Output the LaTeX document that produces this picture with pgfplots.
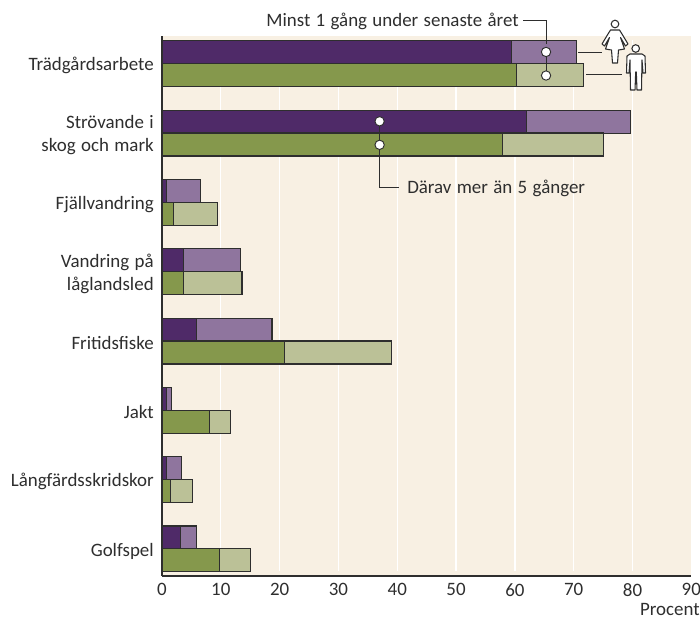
\documentclass[border=0pt]{standalone}
\usepackage{fontspec}
\setmainfont[WordSpace=1.25]{Carlito}
\usepackage{pgfplots}
\pgfplotsset{compat=1.18}
\definecolor{pdark}{HTML}{4F2A68}
\definecolor{plight}{HTML}{8F759E}
\definecolor{gdark}{HTML}{85984C}
\definecolor{glight}{HTML}{BBC197}
\definecolor{bg}{HTML}{F8F0E3}
\definecolor{ink}{HTML}{2E2E2E}
\pgfplotstableread{
idx woman womanm man manm
0 70.4 59.5 71.6 60.3
1 79.7 61.9 75.1 57.9
2 6.6 0.7 9.5 1.9
3 13.4 3.7 13.6 3.7
4 18.7 5.8 39.0 20.9
5 1.6 0.7 11.7 8.0
6 3.3 0.7 5.2 1.4
7 5.8 3.1 15.0 9.8
}\bars
\begin{document}
\begin{tikzpicture}[x=0.75pt,y=-0.75pt,font=\fontsize{14.2}{17.2}\selectfont,text=ink]
\path[use as bounding box] (0,0) rectangle (700,619);
\begin{axis}[
  at={(121.5pt,-432pt)}, anchor=south west, scale only axis,
  width=397pt, height=405pt,
  xmin=0, xmax=90, ymin=-0.4, ymax=7.39, y dir=reverse,
  axis background/.style={fill=bg},
  axis x line*=bottom, axis y line*=left,
  axis line style={ink,line width=0.9pt,-},
  tick style={draw=none},
  xtick={0,10,...,90}, ytick={0,...,7},
  yticklabels={Trädgårdsarbete,{Strövande i\\skog och mark},Fjällvandring,{Vandring på\\låglandsled},Fritidsfiske,Jakt,Långfärdsskridskor,Golfspel},
  yticklabel style={align=right,inner sep=0pt,xshift=-6pt,yshift=-1.5pt,text=ink},
  xticklabel style={text=ink,yshift=-2pt},
  /pgf/number format/assume math mode=true,
  clip=false,
]
\pgfplotsinvokeforeach{10,20,...,80}{\addplot[white,line width=1pt,forget plot] coordinates {(#1,-0.34)(#1,7.32)};}
\pgfkeys{/tikz/barstyle/.style={xbar,bar width=17.25pt,draw=ink,line width=0.8pt}}
\addplot[barstyle,fill=plight,bar shift=8.6pt] table[x=woman,y=idx] {\bars};
\addplot[barstyle,fill=pdark,bar shift=8.6pt] table[x=womanm,y=idx] {\bars};
\addplot[barstyle,fill=glight,bar shift=-8.6pt] table[x=man,y=idx] {\bars};
\addplot[barstyle,fill=gdark,bar shift=-8.6pt] table[x=manm,y=idx] {\bars};
\addplot[ink,line width=0.8pt,forget plot] coordinates {(65.3,-0.2)(65.3,0.17)};
\addplot[ink,line width=0.8pt,forget plot] coordinates {(37.0,0.83)(37.0,1.17)};
\addplot[only marks,mark=*,mark size=3.5pt,mark options={fill=white,draw=ink,line width=0.7pt}] coordinates {(65.3,-0.17)(65.3,0.17)(37.0,0.83)(37.0,1.17)};
\end{axis}
% callouts in image pixels
\draw[ink,line width=0.8pt] (523,20.5)--(546.5,20.5)--(546.5,44);
\node[anchor=east,inner sep=0pt] at (519,21) {Minst 1 gång under senaste året};
\draw[ink,line width=0.8pt] (379.5,150)--(379.5,187.5)--(399,187.5);
\node[anchor=west,inner sep=0pt] at (407,188) {Därav mer än 5 gånger};
\draw[ink,line width=0.8pt] (578,52.5)--(602,52.5);
\draw[ink,line width=0.8pt] (586,74.6)--(622,74.6);
\node[anchor=north east,inner sep=0pt] at (700,603) {Procent};
% woman, man
\begin{scope}[ink,line width=0.8pt,line join=round]
\draw[fill=white] (615,24) circle (3.8);
\draw[fill=white] (610.5,30)--(619.5,30)--(622,34)--(628,44)--(625.5,46)--(620.5,37.5)--(624.5,49)--(618.5,50)--(617.5,63)--(612.5,63)--(611.5,50)--(605.5,49)--(609.5,37.5)--(604.5,46)--(602,44)--(608,34)--cycle;
\draw[fill=white] (635.7,48.5) circle (3.8);
\draw[fill=white] (630,54)--(642,54)--(645,56)--(645.5,73)--(643,73)--(642,60)--(641.5,90)--(637,90)--(636.3,72)--(635.7,72)--(635,90)--(630.5,90)--(630,60)--(629,73)--(626.5,73)--(627,56)--cycle;
\end{scope}
\end{tikzpicture}
\end{document}
